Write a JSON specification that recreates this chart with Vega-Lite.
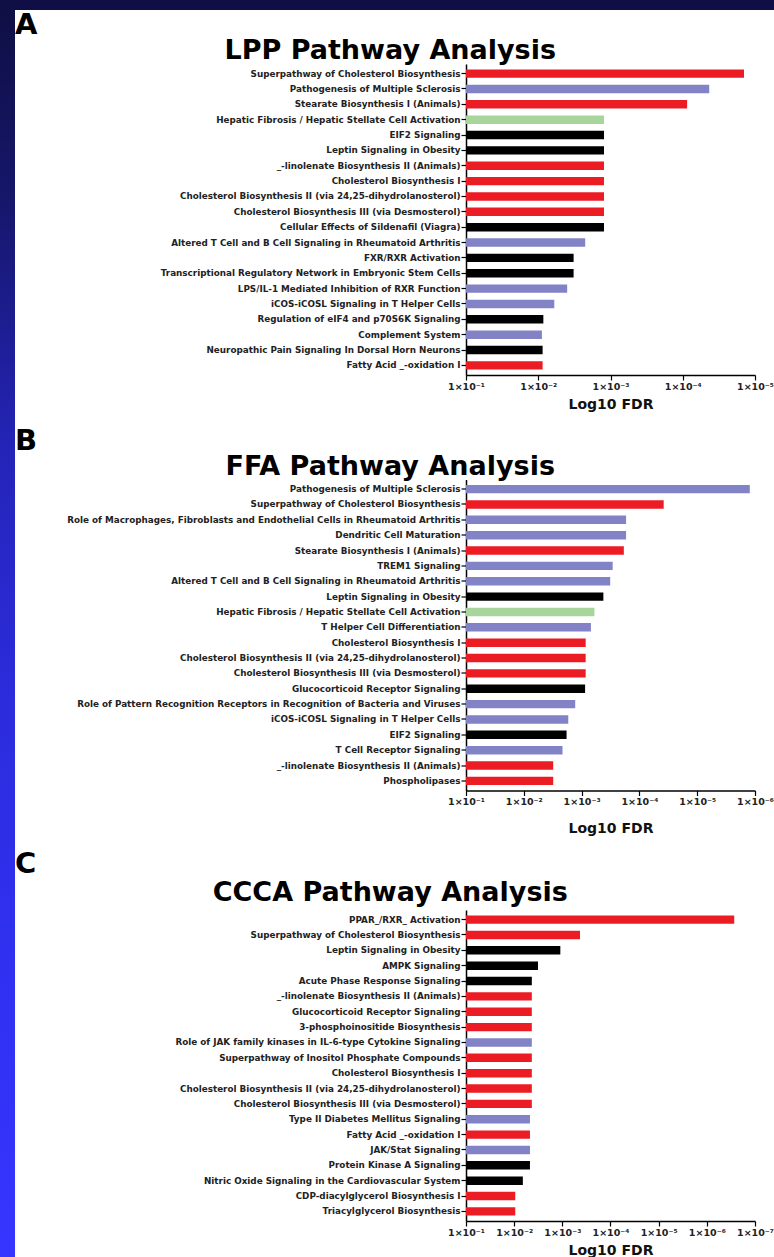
{
  "$schema": "https://vega.github.io/schema/vega-lite/v6.json",
  "background": "white",
  "padding": 0,
  "datasets": {
    "lpp": [
      {"pathway": "Superpathway of Cholesterol Biosynthesis", "fdr": 1.42e-5, "group": "lipid"},
      {"pathway": "Pathogenesis of Multiple Sclerosis", "fdr": 4.3e-5, "group": "immune"},
      {"pathway": "Stearate Biosynthesis I (Animals)", "fdr": 8.7e-5, "group": "lipid"},
      {"pathway": "Hepatic Fibrosis / Hepatic Stellate Cell Activation", "fdr": 1.23e-3, "group": "fibrosis"},
      {"pathway": "EIF2 Signaling", "fdr": 1.23e-3, "group": "other"},
      {"pathway": "Leptin Signaling in Obesity", "fdr": 1.23e-3, "group": "other"},
      {"pathway": "_-linolenate Biosynthesis II (Animals)", "fdr": 1.23e-3, "group": "lipid"},
      {"pathway": "Cholesterol Biosynthesis I", "fdr": 1.23e-3, "group": "lipid"},
      {"pathway": "Cholesterol Biosynthesis II (via 24,25-dihydrolanosterol)", "fdr": 1.23e-3, "group": "lipid"},
      {"pathway": "Cholesterol Biosynthesis III (via Desmosterol)", "fdr": 1.23e-3, "group": "lipid"},
      {"pathway": "Cellular Effects of Sildenafil (Viagra)", "fdr": 1.23e-3, "group": "other"},
      {"pathway": "Altered T Cell and B Cell Signaling in Rheumatoid Arthritis", "fdr": 2.24e-3, "group": "immune"},
      {"pathway": "FXR/RXR Activation", "fdr": 3.24e-3, "group": "other"},
      {"pathway": "Transcriptional Regulatory Network in Embryonic Stem Cells", "fdr": 3.24e-3, "group": "other"},
      {"pathway": "LPS/IL-1 Mediated Inhibition of RXR Function", "fdr": 3.98e-3, "group": "immune"},
      {"pathway": "iCOS-iCOSL Signaling in T Helper Cells", "fdr": 6.0e-3, "group": "immune"},
      {"pathway": "Regulation of eIF4 and p70S6K Signaling", "fdr": 8.5e-3, "group": "other"},
      {"pathway": "Complement System", "fdr": 8.9e-3, "group": "immune"},
      {"pathway": "Neuropathic Pain Signaling In Dorsal Horn Neurons", "fdr": 8.7e-3, "group": "other"},
      {"pathway": "Fatty Acid _-oxidation I", "fdr": 8.7e-3, "group": "lipid"}
    ],
    "ffa": [
      {"pathway": "Pathogenesis of Multiple Sclerosis", "fdr": 1.23e-6, "group": "immune"},
      {"pathway": "Superpathway of Cholesterol Biosynthesis", "fdr": 3.8e-5, "group": "lipid"},
      {"pathway": "Role of Macrophages, Fibroblasts and Endothelial Cells in Rheumatoid Arthritis", "fdr": 1.7e-4, "group": "immune"},
      {"pathway": "Dendritic Cell Maturation", "fdr": 1.7e-4, "group": "immune"},
      {"pathway": "Stearate Biosynthesis I (Animals)", "fdr": 1.86e-4, "group": "lipid"},
      {"pathway": "TREM1 Signaling", "fdr": 2.9e-4, "group": "immune"},
      {"pathway": "Altered T Cell and B Cell Signaling in Rheumatoid Arthritis", "fdr": 3.2e-4, "group": "immune"},
      {"pathway": "Leptin Signaling in Obesity", "fdr": 4.2e-4, "group": "other"},
      {"pathway": "Hepatic Fibrosis / Hepatic Stellate Cell Activation", "fdr": 6.0e-4, "group": "fibrosis"},
      {"pathway": "T Helper Cell Differentiation", "fdr": 6.9e-4, "group": "immune"},
      {"pathway": "Cholesterol Biosynthesis I", "fdr": 8.5e-4, "group": "lipid"},
      {"pathway": "Cholesterol Biosynthesis II (via 24,25-dihydrolanosterol)", "fdr": 8.5e-4, "group": "lipid"},
      {"pathway": "Cholesterol Biosynthesis III (via Desmosterol)", "fdr": 8.5e-4, "group": "lipid"},
      {"pathway": "Glucocorticoid Receptor Signaling", "fdr": 8.7e-4, "group": "other"},
      {"pathway": "Role of Pattern Recognition Receptors in Recognition of Bacteria and Viruses", "fdr": 1.29e-3, "group": "immune"},
      {"pathway": "iCOS-iCOSL Signaling in T Helper Cells", "fdr": 1.7e-3, "group": "immune"},
      {"pathway": "EIF2 Signaling", "fdr": 1.82e-3, "group": "other"},
      {"pathway": "T Cell Receptor Signaling", "fdr": 2.14e-3, "group": "immune"},
      {"pathway": "_-linolenate Biosynthesis II (Animals)", "fdr": 3.1e-3, "group": "lipid"},
      {"pathway": "Phospholipases", "fdr": 3.1e-3, "group": "lipid"}
    ],
    "ccca": [
      {"pathway": "PPAR_/RXR_ Activation", "fdr": 2.7e-7, "group": "lipid"},
      {"pathway": "Superpathway of Cholesterol Biosynthesis", "fdr": 4.3e-4, "group": "lipid"},
      {"pathway": "Leptin Signaling in Obesity", "fdr": 1.1e-3, "group": "other"},
      {"pathway": "AMPK Signaling", "fdr": 3.2e-3, "group": "other"},
      {"pathway": "Acute Phase Response Signaling", "fdr": 4.3e-3, "group": "other"},
      {"pathway": "_-linolenate Biosynthesis II (Animals)", "fdr": 4.3e-3, "group": "lipid"},
      {"pathway": "Glucocorticoid Receptor Signaling", "fdr": 4.3e-3, "group": "lipid"},
      {"pathway": "3-phosphoinositide Biosynthesis", "fdr": 4.3e-3, "group": "lipid"},
      {"pathway": "Role of JAK family kinases in IL-6-type Cytokine Signaling", "fdr": 4.3e-3, "group": "immune"},
      {"pathway": "Superpathway of Inositol Phosphate Compounds", "fdr": 4.3e-3, "group": "lipid"},
      {"pathway": "Cholesterol Biosynthesis I", "fdr": 4.3e-3, "group": "lipid"},
      {"pathway": "Cholesterol Biosynthesis II (via 24,25-dihydrolanosterol)", "fdr": 4.3e-3, "group": "lipid"},
      {"pathway": "Cholesterol Biosynthesis III (via Desmosterol)", "fdr": 4.3e-3, "group": "lipid"},
      {"pathway": "Type II Diabetes Mellitus Signaling", "fdr": 4.7e-3, "group": "immune"},
      {"pathway": "Fatty Acid _-oxidation I", "fdr": 4.7e-3, "group": "lipid"},
      {"pathway": "JAK/Stat Signaling", "fdr": 4.7e-3, "group": "immune"},
      {"pathway": "Protein Kinase A Signaling", "fdr": 4.7e-3, "group": "other"},
      {"pathway": "Nitric Oxide Signaling in the Cardiovascular System", "fdr": 6.6e-3, "group": "other"},
      {"pathway": "CDP-diacylglycerol Biosynthesis I", "fdr": 9.5e-3, "group": "lipid"},
      {"pathway": "Triacylglycerol Biosynthesis", "fdr": 9.5e-3, "group": "lipid"}
    ]
  },
  "config": {
    "view": {"stroke": null},
    "font": "DejaVu Sans",
    "axis": {
      "domainColor": "#000", "domainWidth": 1.5, "tickColor": "#000", "tickWidth": 1.2,
      "labelFont": "DejaVu Sans", "labelFontWeight": "bold", "labelColor": "#222",
      "grid": false, "titleFont": "DejaVu Sans", "titleFontWeight": "bold", "titleColor": "#111"
    },
    "axisY": {"title": null, "labelFontSize": 8.8, "labelLimit": 600, "tickSize": 5, "labelPadding": 1, "minExtent": 451, "maxExtent": 451},
    "axisX": {"labelFontSize": 9.5, "labelFlush": false, "labelOverlap": false, "tickSize": 5, "labelPadding": 1, "titleFontSize": 14, "titlePadding": 7},
    "title": {"font": "DejaVu Sans", "fontWeight": "bold", "color": "#000"},
    "bar": {"stroke": null}
  },
  "spacing": 0,
  "vconcat": [
    {"width": 774, "height": 10, "view": {"fill": "#0f0f45"}, "data": {"values": []}, "mark": "rect", "encoding": {}},
    {
      "spacing": 0,
      "hconcat": [
        {"width": 15, "height": 1247,
         "view": {"fill": {"gradient": "linear", "x1": 0, "y1": 0, "x2": 0, "y2": 1, "stops": [
           {"offset": 0, "color": "#0f0f45"}, {"offset": 0.15, "color": "#16166a"}, {"offset": 0.35, "color": "#2424b8"},
           {"offset": 0.55, "color": "#2c2cdc"}, {"offset": 0.75, "color": "#3030f0"}, {"offset": 1, "color": "#3535ff"}]}},
         "data": {"values": []}, "mark": "rect", "encoding": {}},
        {
          "spacing": 0,
          "vconcat": [
            {"width": 1, "height": 1, "data": {"values": []}, "mark": "rect", "encoding": {}},
            {
              "spacing": 14.5,
              "vconcat": [
                {
                  "title": {"text": "A", "anchor": "start", "fontSize": 29, "offset": -3},
                  "vconcat": [{
                    "title": {"text": "LPP Pathway Analysis", "fontSize": 27, "anchor": "middle", "frame": "bounds", "offset": -1, "dx": -4},
                    "width": 289, "height": 311,
                    "data": {"name": "lpp"},
                    "mark": "bar",
                    "encoding": {
                      "y": {"field": "pathway", "type": "nominal", "sort": null, "scale": {"paddingInner": 0.45, "paddingOuter": 0.35}},
                      "x": {"field": "fdr", "type": "quantitative", "scale": {"type": "log", "domain": [0.1, 0.00001]},
                            "axis": {"title": "Log10 FDR", "values": [0.1, 0.01, 0.001, 0.0001, 0.00001],
                                     "labelExpr": "'1×10' + ['⁻¹','⁻²','⁻³','⁻⁴','⁻⁵','⁻⁶','⁻⁷'][round(-log(datum.value)/LN10) - 1]"}},
                      "x2": {"datum": 0.1},
                      "color": {"field": "group", "type": "nominal", "legend": null,
                                "scale": {"domain": ["lipid", "immune", "fibrosis", "other"], "range": ["#ec1c24", "#8282c6", "#a8d59c", "#000000"]}}
                    }
                  }]
                },
                {
                  "title": {"text": "B", "anchor": "start", "fontSize": 29, "offset": -3},
                  "vconcat": [{
                    "title": {"text": "FFA Pathway Analysis", "fontSize": 27, "anchor": "middle", "frame": "bounds", "offset": -1, "dx": -4},
                    "width": 289, "height": 311,
                    "data": {"name": "ffa"},
                    "mark": "bar",
                    "encoding": {
                      "y": {"field": "pathway", "type": "nominal", "sort": null, "scale": {"paddingInner": 0.45, "paddingOuter": 0.35}},
                      "x": {"field": "fdr", "type": "quantitative", "scale": {"type": "log", "domain": [0.1, 0.000001]},
                            "axis": {"title": "Log10 FDR", "titlePadding": 15, "values": [0.1, 0.01, 0.001, 0.0001, 0.00001, 0.000001],
                                     "labelExpr": "'1×10' + ['⁻¹','⁻²','⁻³','⁻⁴','⁻⁵','⁻⁶','⁻⁷'][round(-log(datum.value)/LN10) - 1]"}},
                      "x2": {"datum": 0.1},
                      "color": {"field": "group", "type": "nominal", "legend": null,
                                "scale": {"domain": ["lipid", "immune", "fibrosis", "other"], "range": ["#ec1c24", "#8282c6", "#a8d59c", "#000000"]}}
                    }
                  }]
                },
                {
                  "title": {"text": "C", "anchor": "start", "fontSize": 29, "offset": 0},
                  "vconcat": [{
                    "title": {"text": "CCCA Pathway Analysis", "fontSize": 27, "anchor": "middle", "frame": "bounds", "offset": 3, "dx": -4},
                    "width": 289, "height": 311,
                    "data": {"name": "ccca"},
                    "mark": "bar",
                    "encoding": {
                      "y": {"field": "pathway", "type": "nominal", "sort": null, "scale": {"paddingInner": 0.45, "paddingOuter": 0.35}},
                      "x": {"field": "fdr", "type": "quantitative", "scale": {"type": "log", "domain": [0.1, 0.0000001]},
                            "axis": {"title": "Log10 FDR", "values": [0.1, 0.01, 0.001, 0.0001, 0.00001, 0.000001, 0.0000001],
                                     "labelExpr": "'1×10' + ['⁻¹','⁻²','⁻³','⁻⁴','⁻⁵','⁻⁶','⁻⁷'][round(-log(datum.value)/LN10) - 1]"}},
                      "x2": {"datum": 0.1},
                      "color": {"field": "group", "type": "nominal", "legend": null,
                                "scale": {"domain": ["lipid", "immune", "fibrosis", "other"], "range": ["#ec1c24", "#8282c6", "#a8d59c", "#000000"]}}
                    }
                  }]
                }
              ]
            }
          ]
        }
      ]
    }
  ]
}
